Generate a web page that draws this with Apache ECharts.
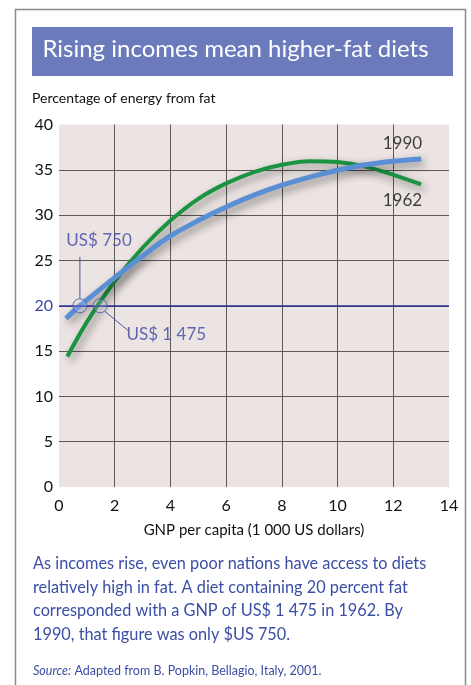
<!DOCTYPE html>
<html><head><meta charset="utf-8">
<script src="https://cdn.jsdelivr.net/npm/echarts@6/dist/echarts.min.js"></script>
<style>html,body{margin:0;padding:0;background:#fff}#c{width:471px;height:685px}</style>
</head><body><div id="c"></div>
<script>
var gnp1962 = [0.3, 1, 2, 3, 4, 5, 6, 7, 8, 9, 10, 11, 12, 13];
var fat1962 = [14.4, 18.2, 22.7, 26.4, 29.4, 31.8, 33.5, 34.75, 35.55, 35.95, 35.85, 35.35, 34.45, 33.4];
var gnp1990 = [0.25, 0.75, 2, 3, 4, 5, 6, 7, 8, 9, 10, 11, 12, 13];
var fat1990 = [18.6, 20, 23.1, 25.5, 27.7, 29.4, 30.9, 32.2, 33.3, 34.2, 34.95, 35.55, 35.95, 36.2];
var thresholdFat = 20;
var thresholdGnp = [0.75, 1.475];
var xTicks = [0, 2, 4, 6, 8, 10, 12, 14];
var yTicks = [0, 5, 10, 15, 20, 25, 30, 35, 40];

var FONT = 'Lato';
var BLUE_TXT = '#3b4ea6';
var chart = echarts.init(document.getElementById('c'));
function pairs(xs, ys){ return xs.map(function(x,i){ return [x, ys[i]]; }); }

chart.setOption({
  animation: false,
  textStyle: {fontFamily: FONT},
  grid: {left: 59, right: 22, top: 124.5, bottom: 198, show: true, backgroundColor: '#ebe4e2', borderWidth: 0},
  graphic: [
    {type: 'rect', shape: {x: 15.5, y: 9.5, width: 450, height: 690}, style: {fill: 'none', stroke: '#8a8a8a', lineWidth: 1.5}, z: -10},
    {type: 'rect', shape: {x: 32, y: 27, width: 421, height: 49}, style: {fill: '#6a7abb'}},
    {type: 'text', left: 'center', top: 37, style: {text: 'Rising incomes mean higher-fat diets', fill: '#ffffff', font: '24px ' + FONT}},
    {type: 'text', left: 32, top: 91, style: {text: 'Percentage of energy from fat', fill: '#111', font: '14px ' + FONT}},
    {type: 'text', left: 33, top: 552, style: {text: 'As incomes rise, even poor nations have access to diets\nrelatively high in fat. A diet containing 20 percent fat\ncorresponded with a GNP of US$ 1 475 in 1962. By\n1990, that figure was only $US 750.', fill: BLUE_TXT, font: '16.3px ' + FONT, lineHeight: 23.5}},
    {type: 'text', left: 33, top: 664, style: {rich: {i: {fontStyle: 'italic', fontSize: 12.5, fontFamily: FONT, fill: BLUE_TXT}, n: {fontSize: 12.5, fontFamily: FONT, fill: BLUE_TXT}}, text: '{i|Source:} {n|Adapted from B. Popkin, Bellagio, Italy, 2001.}'}}
  ],
  xAxis: {
    type: 'value', min: xTicks[0], max: xTicks[xTicks.length-1], interval: 2,
    name: 'GNP per capita (1 000 US dollars)', nameLocation: 'middle', nameGap: 36,
    nameTextStyle: {fontSize: 15, color: '#111', fontFamily: FONT},
    axisLine: {show: false}, axisTick: {show: false},
    axisLabel: {fontSize: 16, color: '#111', margin: 11, fontFamily: FONT},
    splitLine: {show: true, showMinLine: false, showMaxLine: false, lineStyle: {color: '#5e5858', width: 1}}
  },
  yAxis: {
    type: 'value', min: yTicks[0], max: yTicks[yTicks.length-1], interval: 5,
    axisLine: {show: false}, axisTick: {show: false},
    axisLabel: {fontSize: 16, margin: 6, fontFamily: FONT,
      color: function(v){ return +v === thresholdFat ? '#3b46a8' : '#111'; }},
    splitLine: {show: true, showMinLine: false, showMaxLine: false, lineStyle: {color: '#5e5858', width: 1}}
  },
  series: [
    {type: 'line', name: '1962', data: pairs(gnp1962, fat1962), smooth: 0.35, showSymbol: false, z: 3,
     lineStyle: {color: '#1a9440', width: 4, shadowColor: 'rgba(0,0,0,0.45)', shadowBlur: 8, shadowOffsetX: 3, shadowOffsetY: 4},
     markLine: {silent: true, symbol: 'none', label: {show: false}, lineStyle: {color: '#27309a', width: 1.5, type: 'solid', shadowBlur: 0}, data: [{yAxis: thresholdFat}]}},
    {type: 'line', name: '1990', data: pairs(gnp1990, fat1990), smooth: 0.35, showSymbol: false, z: 4,
     lineStyle: {color: '#5a8fd6', width: 5, shadowColor: 'rgba(0,0,0,0.45)', shadowBlur: 8, shadowOffsetX: 3, shadowOffsetY: 4}},
    {type: 'scatter', data: thresholdGnp.map(function(g){ return [g, thresholdFat]; }), symbol: 'circle', symbolSize: 14, z: 5,
     itemStyle: {color: 'rgba(220,225,245,0.25)', borderColor: '#4a55aa', borderWidth: 1}},
    {type: 'line', data: [[thresholdGnp[0], 20.8], [thresholdGnp[0], 25.4]], showSymbol: false, z: 5, lineStyle: {color: '#4a55aa', width: 1}},
    {type: 'line', data: [[1.64, 19.4], [2.47, 17.3]], showSymbol: false, z: 5, lineStyle: {color: '#4a55aa', width: 1}},
    {type: 'scatter', symbolSize: 0, z: 6, data: [
      {value: [0.26, 27.2], label: {show: true, position: 'right', distance: 0, formatter: 'US$ 750', color: '#3b46a8', fontSize: 17, fontFamily: FONT}},
      {value: [2.42, 16.8], label: {show: true, position: 'right', distance: 0, formatter: 'US$ 1 475', color: '#3b46a8', fontSize: 17, fontFamily: FONT}},
      {value: [12.33, 37.9], label: {show: true, position: 'inside', formatter: '1990', color: '#111', fontSize: 17, fontFamily: FONT}},
      {value: [12.33, 31.6], label: {show: true, position: 'inside', formatter: '1962', color: '#111', fontSize: 17, fontFamily: FONT}}
    ]}
  ]
});
</script></body></html>
